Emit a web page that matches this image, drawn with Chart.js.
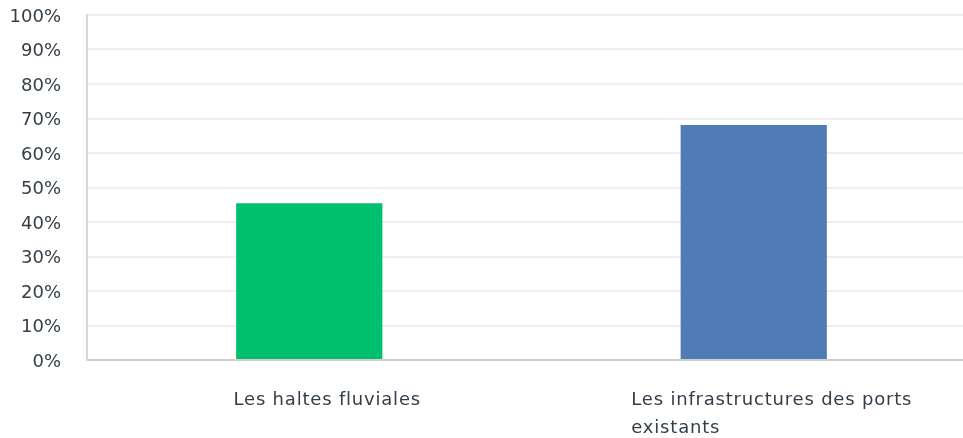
<!DOCTYPE html>
<html>
<head>
<meta charset="utf-8">
<script src="https://cdn.jsdelivr.net/npm/chart.js@4/dist/chart.umd.min.js"></script>
<style>
  html, body { margin: 0; padding: 0; background: #fff; overflow: hidden; }
  #wrap { width: 976px; height: 438px; }
</style>
</head>
<body>
<div id="wrap"><canvas id="responseChart"></canvas></div>
<script>
var categories = [
    ['Les haltes fluviales'],
    ['Les infrastructures des ports', 'existants']
];
var percentValues = [45.4, 68.1];
var barColors = ['#00bf6f', '#507cb6'];
var yTicks = [0, 10, 20, 30, 40, 50, 60, 70, 80, 90, 100];

var textColor = '#333e48';

// category labels drawn as left-aligned blocks under each bar
var wrappedLabels = {
    id: 'wrappedLabels',
    afterDraw: function (chart, args, opts) {
        var ctx = chart.ctx;
        var xScale = chart.scales.x;
        ctx.save();
        ctx.font = opts.font;
        ctx.letterSpacing = opts.letterSpacing;
        ctx.fillStyle = textColor;
        ctx.textAlign = 'left';
        ctx.textBaseline = 'alphabetic';
        categories.forEach(function (lines, i) {
            var blockWidth = Math.max.apply(null, lines.map(function (l) { return ctx.measureText(l).width; }));
            var left = xScale.getPixelForValue(i) - blockWidth / 2 + opts.shift;
            lines.forEach(function (line, j) {
                ctx.fillText(line, left, chart.chartArea.bottom + opts.top + j * opts.lineHeight);
            });
        });
        ctx.restore();
    }
};

var ctx = document.getElementById('responseChart').getContext('2d');
var responseChart = new Chart(ctx, {
    type: 'bar',
    data: {
        labels: categories,
        datasets: [{
            data: percentValues,
            backgroundColor: barColors,
            barPercentage: 0.329,
            categoryPercentage: 1
        }]
    },
    options: {
        responsive: true,
        maintainAspectRatio: false,
        animation: false,
        layout: {
            padding: { top: 15, bottom: 78, left: 0, right: 0 }
        },
        plugins: {
            legend: { display: false },
            tooltip: { enabled: false },
            wrappedLabels: {
                font: '18px "DejaVu Sans"',
                letterSpacing: '0.8px',
                shift: 18,
                top: 45,
                lineHeight: 28
            }
        },
        scales: {
            x: {
                grid: { display: false, drawTicks: false },
                border: { color: '#cfcfcf', width: 2 },
                ticks: { display: false }
            },
            y: {
                min: 0,
                max: 100,
                afterFit: function (scale) {
                    scale.width = 87;
                    scale.paddingTop = 0;
                    scale.paddingBottom = 0;
                },
                afterBuildTicks: function (scale) {
                    scale.ticks = yTicks.map(function (v) { return { value: v }; });
                },
                grid: { color: '#eeeeee', lineWidth: 2, drawTicks: false },
                border: { color: '#d6d6d6', width: 2 },
                ticks: {
                    padding: 26,
                    labelOffset: 2,
                    color: textColor,
                    font: { family: 'DejaVu Sans', size: 18 },
                    callback: function (v) { return v + '%'; }
                }
            }
        }
    },
    plugins: [wrappedLabels]
});
</script>
</body>
</html>
